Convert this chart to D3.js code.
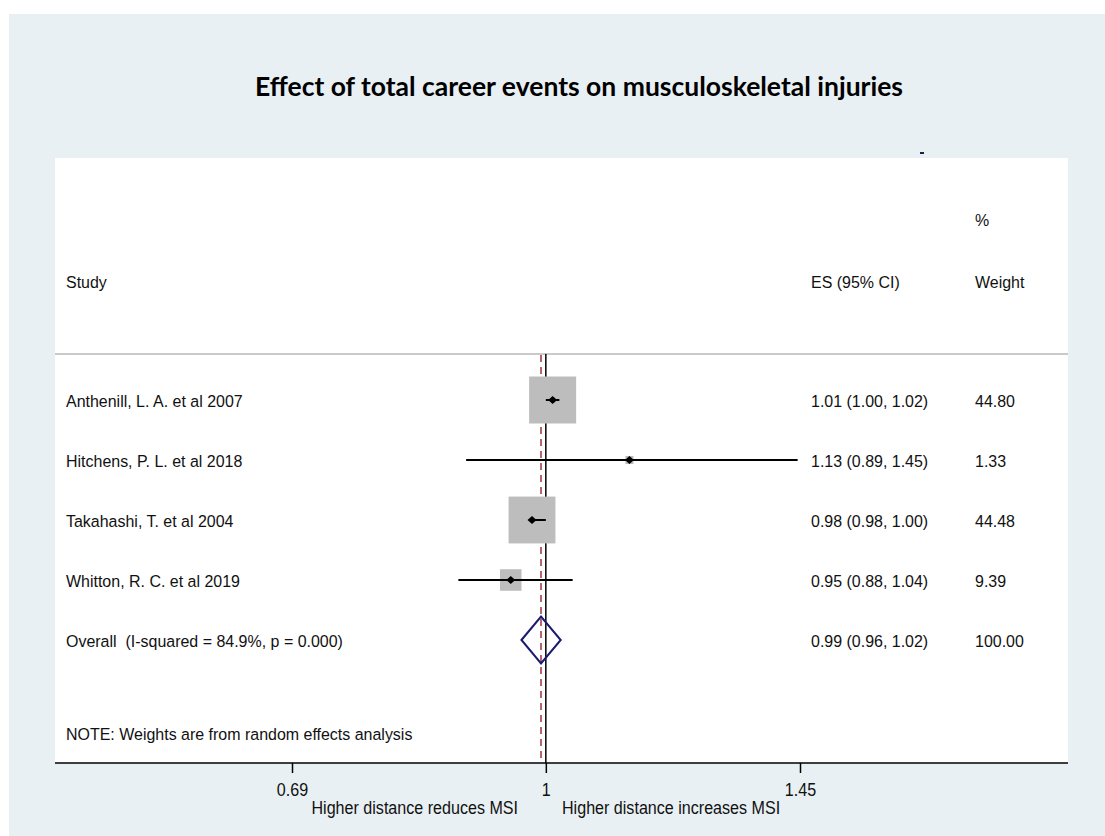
<!DOCTYPE html>
<html><head><meta charset="utf-8">
<script src="https://cdn.jsdelivr.net/npm/d3@7"></script>
<style>body{margin:0;background:#fff}svg{display:block}</style>
</head><body><svg id="c" width="1105" height="836"></svg>
<script>
// ---- data ----
const studies = ["Anthenill, L. A. et al 2007", "Hitchens, P. L. et al 2018", "Takahashi, T. et al 2004", "Whitton, R. C. et al 2019"];
const es = [1.01, 1.13, 0.98, 0.95];
const lower = [1.00, 0.89, 0.98, 0.88];
const upper = [1.02, 1.445, 1.00, 1.04];
const weights = [44.80, 1.33, 44.48, 9.39];
const esLabels = ["1.01 (1.00, 1.02)", "1.13 (0.89, 1.45)", "0.98 (0.98, 1.00)", "0.95 (0.88, 1.04)"];
const weightLabels = ["44.80", "1.33", "44.48", "9.39"];
const overallLabel = "Overall  (I-squared = 84.9%, p = 0.000)";
const overallES = 0.993, overallLower = 0.965, overallUpper = 1.022;
const overallESLabel = "0.99 (0.96, 1.02)";
const overallWeightLabel = "100.00";
const tickValues = [0.69, 1, 1.45];
const tickLabels = ["0.69", "1", "1.45"];
const title = "Effect of total career events on musculoskeletal injuries";
const noteText = "NOTE: Weights are from random effects analysis";
const leftSubtitle = "Higher distance reduces MSI";
const rightSubtitle = "Higher distance increases MSI";

// ---- layout ----
const svg = d3.select("#c");
const W = 1105, H = 836;
const panel = {x: 55, y: 158, r: 1068, axisY: 763};
const font = "'Liberation Sans', Arial, sans-serif";

svg.append("rect").attr("x", 0).attr("y", 0).attr("width", W).attr("height", H).attr("fill", "#ffffff");
svg.append("rect").attr("x", 9).attr("y", 14).attr("width", W - 9).attr("height", H - 14).attr("fill", "#e8f0f3");
svg.append("rect").attr("x", panel.x).attr("y", panel.y).attr("width", panel.r - panel.x).attr("height", panel.axisY - panel.y).attr("fill", "#ffffff");

// title
svg.append("text").attr("x", 579).attr("y", 96).attr("text-anchor", "middle")
  .attr("font-family", "Lato, 'Open Sans', sans-serif").attr("font-weight", "bold").attr("font-size", 26)
  .attr("textLength", 648).attr("lengthAdjust", "spacingAndGlyphs").attr("fill", "#000")
  .text(title);
// small stray mark
svg.append("rect").attr("x", 920).attr("y", 152).attr("width", 4).attr("height", 2).attr("fill", "#1a2050");

const x = d3.scaleLog().domain([0.69, 1.45]).range([292, 800]);
const y = d3.scaleLinear().domain([0, 4]).range([400, 640]);

function txt(g, s, tx, ty, opts = {}) {
  return g.append("text")
    .attr("transform", `translate(${tx},${ty}) scale(${opts.sx || 0.94},1)`)
    .attr("text-anchor", opts.anchor || "start")
    .attr("font-family", font).attr("font-size", opts.size || 17)
    .style("white-space", "pre")
    .attr("fill", "#111").text(s);
}

// headers
txt(svg, "Study", 66, 287.5);
txt(svg, "ES (95% CI)", 811, 287.5);
txt(svg, "%", 975, 226);
txt(svg, "Weight", 975, 287.5);

// separator
svg.append("line").attr("x1", panel.x).attr("x2", panel.r).attr("y1", 354).attr("y2", 354)
  .attr("stroke", "#b8b8b8").attr("stroke-width", 1.5);

// null line & overall line
svg.append("line").attr("x1", x(1)).attr("x2", x(1)).attr("y1", 354).attr("y2", panel.axisY)
  .attr("stroke", "#000").attr("stroke-width", 1.5);
svg.append("line").attr("x1", x(overallES)).attr("x2", x(overallES)).attr("y1", 355).attr("y2", panel.axisY)
  .attr("stroke", "#b3666f").attr("stroke-width", 2).attr("stroke-dasharray", "7,5");

// study rows
const k = 47 / Math.sqrt(44.8);
const rows = studies.map((s, i) => ({s, es: es[i], lo: lower[i], hi: upper[i], w: weights[i], el: esLabels[i], wl: weightLabels[i], i}));
const rg = svg.append("g");
rows.forEach(d => {
  const cy = y(d.i), side = k * Math.sqrt(d.w);
  rg.append("rect").attr("x", x(d.es) - side / 2).attr("y", cy - side / 2)
    .attr("width", side).attr("height", side).attr("fill", "#bdbdbd");
  rg.append("line").attr("x1", x(d.lo)).attr("x2", x(d.hi)).attr("y1", cy).attr("y2", cy)
    .attr("stroke", "#000").attr("stroke-width", 2);
  const px = x(d.es);
  rg.append("path").attr("d", `M${px - 4.5},${cy}L${px},${cy - 4}L${px + 4.5},${cy}L${px},${cy + 4}Z`).attr("fill", "#000");
  txt(rg, d.s, 66, cy + 6.5);
  txt(rg, d.el, 811, cy + 6.5);
  txt(rg, d.wl, 975, cy + 6.5);
});

// overall
const oy = y(4);
svg.append("path")
  .attr("d", `M${x(overallLower)},${oy}L${x(overallES)},${oy - 23.5}L${x(overallUpper)},${oy}L${x(overallES)},${oy + 23.5}Z`)
  .attr("fill", "none").attr("stroke", "#1a1a6e").attr("stroke-width", 2);
txt(svg, overallLabel, 66, oy + 6.5);
txt(svg, overallESLabel, 811, oy + 6.5);
txt(svg, overallWeightLabel, 975, oy + 6.5);

// note
txt(svg, noteText, 66, 739.5);

// axis
svg.append("line").attr("x1", panel.x).attr("x2", panel.r).attr("y1", panel.axisY).attr("y2", panel.axisY)
  .attr("stroke", "#000").attr("stroke-width", 1.6);
const ax = svg.append("g").attr("transform", `translate(0,${panel.axisY})`)
  .call(d3.axisBottom(x).tickValues(tickValues).tickFormat((d, i) => tickLabels[i]).tickSize(10).tickPadding(10));
ax.select(".domain").remove();
ax.selectAll(".tick line").attr("stroke", "#000").attr("stroke-width", 1.5);
ax.selectAll(".tick text").attr("font-family", font).attr("font-size", 18.5).attr("fill", "#111")
  .attr("transform", "scale(0.87,1)");

txt(svg, leftSubtitle, 518, 814, {anchor: "end", size: 18.5, sx: 0.87});
txt(svg, rightSubtitle, 562, 814, {anchor: "start", size: 18.5, sx: 0.87});
</script>
</body></html>
